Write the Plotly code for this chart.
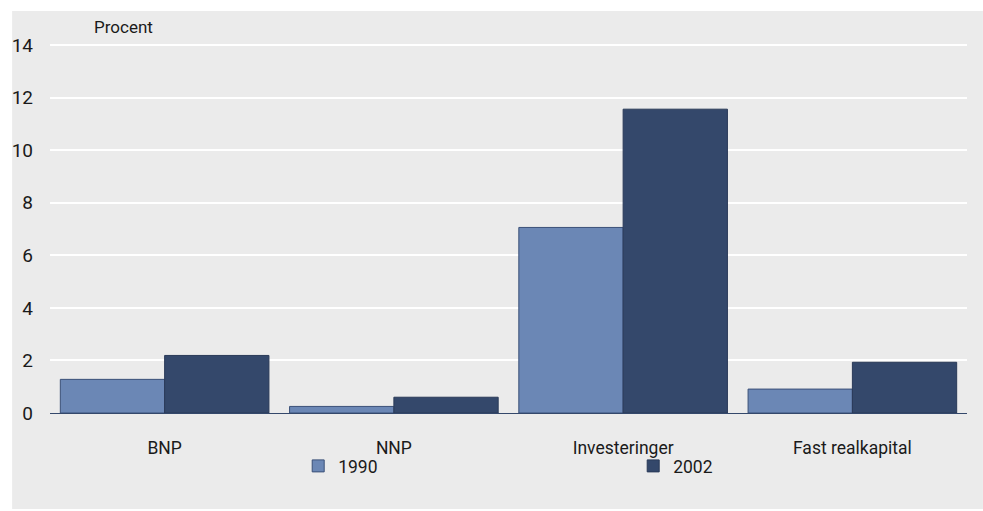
import plotly.graph_objects as go

categories = ["BNP", "NNP", "Investeringer", "Fast realkapital"]
values_1990 = [1.28, 0.25, 7.06, 0.91]
values_2002 = [2.19, 0.6, 11.56, 1.93]
y_ticks = [0, 2, 4, 6, 8, 10, 12, 14]

FONT = "Roboto"
TEXT = "#1a1a1a"

fig = go.Figure()
fig.add_trace(go.Bar(
    x=categories, y=values_1990, name="1990",
    marker=dict(color="#6b87b5", line=dict(color="#3b5078", width=1)),
))
fig.add_trace(go.Bar(
    x=categories, y=values_2002, name="2002",
    marker=dict(color="#34486b", line=dict(color="#2a3a58", width=1)),
))

# light grey frame behind everything (plot area is 920 x 369 px)
fig.add_shape(type="rect", xref="paper", yref="paper",
              x0=-38 / 920, x1=1 + 16 / 920, y0=-96 / 369, y1=1 + 33 / 369,
              fillcolor="#ebebeb", line=dict(width=0), layer="below")

fig.add_annotation(text="Procent", xref="paper", yref="paper",
                   x=42 / 920, y=1 + 5 / 369, xanchor="left", yanchor="bottom",
                   showarrow=False, font=dict(family=FONT, size=17, color=TEXT))

fig.update_layout(
    width=983, height=511,
    margin=dict(l=47, r=16, t=44, b=98),
    paper_bgcolor="white",
    plot_bgcolor="#dcdcdc",
    barmode="group",
    bargap=0.09,
    bargroupgap=0,
    font=dict(family=FONT, size=17.5, color=TEXT),
    xaxis=dict(showgrid=False, ticks="", ticklabelstandoff=22, showline=False),
    # range runs a hair past 14 so the top white gridline is drawn
    yaxis=dict(range=[0, 14.04], tickvals=y_ticks, showgrid=True, gridcolor="white",
               gridwidth=2, zeroline=True, zerolinecolor="#34486b", zerolinewidth=1,
               ticks="", ticklabelstandoff=16, tickfont=dict(size=19)),
    legend=dict(orientation="h", x=249 / 920, y=-53 / 369, xanchor="left", yanchor="middle",
                entrywidth=290, entrywidthmode="pixels", bgcolor="rgba(0,0,0,0)",
                font=dict(family=FONT, size=17.5, color=TEXT)),
)

# drop the browser's default 8px body margin so the figure fills the window exactly
fig.write_html("out.html", config={"displayModeBar": False},
               post_script="document.body.style.margin='0';")
